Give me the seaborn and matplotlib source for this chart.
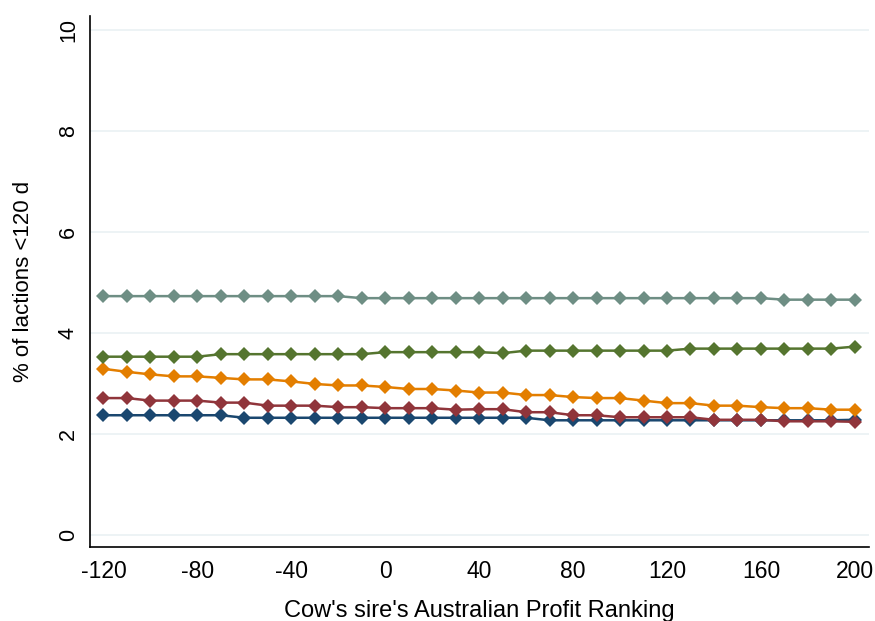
import numpy as np
import pandas as pd
import seaborn as sns
import matplotlib
matplotlib.use("Agg")
import matplotlib.pyplot as plt

# ---- data ----
x_vals = list(range(-120, 201, 10))

blue = [2.37]*6 + [2.32]*13 + [2.27]*13 + [2.28]
red = [2.71, 2.71, 2.66, 2.66, 2.66, 2.62, 2.62, 2.56, 2.56, 2.56, 2.53, 2.53,
       2.51, 2.51, 2.51, 2.48, 2.49, 2.49, 2.43, 2.43, 2.37, 2.37, 2.33, 2.33,
       2.33, 2.33, 2.28, 2.28, 2.28, 2.25, 2.25, 2.25, 2.24]
orange = [3.29, 3.23, 3.18, 3.14, 3.14, 3.11, 3.08, 3.08, 3.04, 2.99, 2.96, 2.96,
          2.93, 2.89, 2.89, 2.86, 2.82, 2.82, 2.77, 2.77, 2.73, 2.71, 2.71, 2.66,
          2.61, 2.61, 2.56, 2.56, 2.53, 2.51, 2.51, 2.48, 2.48]
green = [3.53]*5 + [3.58]*7 + [3.62]*5 + [3.60] + [3.65]*7 + [3.69]*7 + [3.73]
grey = [4.73]*11 + [4.69]*18 + [4.66]*4

series_names = ["s1", "s2", "s3", "s4", "s5"]
series_values = [blue, red, orange, green, grey]
colors = ["#1a476f", "#90353b", "#e37e00", "#55752f", "#6e8e84"]

y_ticks = [0, 2, 4, 6, 8, 10]
x_ticks = [-120, -80, -40, 0, 40, 80, 120, 160, 200]

df = pd.concat(
    [pd.DataFrame({"x": x_vals, "y": v, "series": n}) for n, v in zip(series_names, series_values)],
    ignore_index=True,
)

# ---- style ----
sns.set_style("white")
plt.rcParams["font.family"] = ["Liberation Sans", "DejaVu Sans"]

fig = plt.figure(figsize=(8.75, 6.21), dpi=100)
ax = fig.add_axes([0.1029, 0.1184, 0.8902, 0.8558])

sns.lineplot(
    data=df, x="x", y="y", hue="series", style="series",
    palette=dict(zip(series_names, colors)),
    markers={n: "D" for n in series_names}, dashes=False,
    markersize=7.5, markeredgewidth=0, linewidth=1.8, legend=False, ax=ax,
)

ax.set_xlim(-125.7, 206)
ax.set_ylim(-0.25, 10.28)
ax.set_xticks(x_ticks)
ax.set_yticks(y_ticks)
ax.set_xticklabels([str(t) for t in x_ticks], fontsize=16.5)
ax.set_yticklabels([str(t) for t in y_ticks], rotation=90, va="center", fontsize=15.5)

for t in y_ticks:
    ax.axhline(t, color="#eaf1f3", linewidth=1.2, zorder=0)

for side in ["top", "right"]:
    ax.spines[side].set_visible(False)
for side in ["left", "bottom"]:
    ax.spines[side].set_color("black")
    ax.spines[side].set_linewidth(1.2)

ax.tick_params(axis="both", direction="in", length=7, width=1.1, color="black",
               labelcolor="black")
ax.tick_params(axis="x", pad=9)
ax.tick_params(axis="y", pad=8)

ax.set_xlabel("Cow's sire's Australian Profit Ranking", fontsize=17, labelpad=12, color="black")
ax.set_ylabel("% of lactions <120 d", fontsize=16, labelpad=17, color="black")

fig.savefig("out.png", dpi=100)
